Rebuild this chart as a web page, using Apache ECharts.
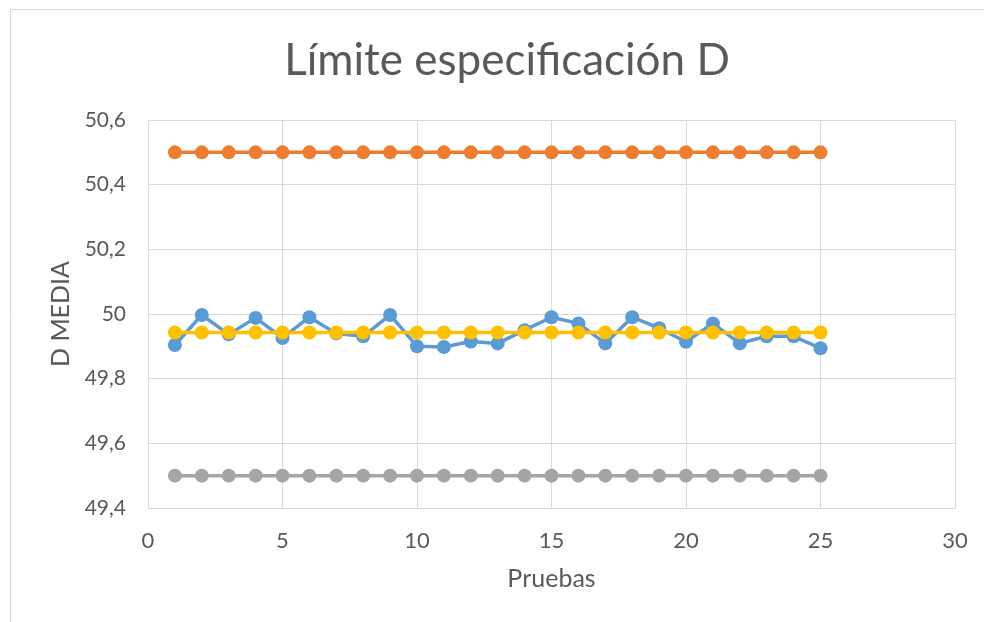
<!DOCTYPE html>
<html>
<head>
<meta charset="utf-8">
<script src="https://cdn.jsdelivr.net/npm/echarts@6/dist/echarts.min.js"></script>
<style>
  html, body { margin: 0; padding: 0; background: #fff; }
  #chart { width: 984px; height: 622px; }
</style>
</head>
<body>
<div id="chart"></div>
<script>
// Test numbers 1..25
const pruebas = [1,2,3,4,5,6,7,8,9,10,11,12,13,14,15,16,17,18,19,20,21,22,23,24,25];

// Measured D mean per test
const dMedia = [49.904, 49.997, 49.937, 49.988, 49.926, 49.990, 49.940, 49.931, 49.997, 49.900,
                49.898, 49.915, 49.909, 49.950, 49.990, 49.971, 49.909, 49.990, 49.956, 49.914,
                49.971, 49.909, 49.931, 49.931, 49.894];

// Upper / lower specification limits and overall mean
const limiteSuperior = [50.5,50.5,50.5,50.5,50.5,50.5,50.5,50.5,50.5,50.5,50.5,50.5,50.5,50.5,50.5,50.5,50.5,50.5,50.5,50.5,50.5,50.5,50.5,50.5,50.5];
const limiteInferior = [49.5,49.5,49.5,49.5,49.5,49.5,49.5,49.5,49.5,49.5,49.5,49.5,49.5,49.5,49.5,49.5,49.5,49.5,49.5,49.5,49.5,49.5,49.5,49.5,49.5];
const media = [49.943,49.943,49.943,49.943,49.943,49.943,49.943,49.943,49.943,49.943,49.943,49.943,49.943,49.943,49.943,49.943,49.943,49.943,49.943,49.943,49.943,49.943,49.943,49.943,49.943];

const FONT = 'Lato, "Open Sans", sans-serif';
const pair = (ys) => pruebas.map((x, i) => [x, ys[i]]);

function serie(name, ys, color, z) {
  return {
    name, type: 'line', data: pair(ys), z,
    symbol: 'circle', symbolSize: 14,
    lineStyle: { color, width: 3.5 },
    itemStyle: { color },
    emphasis: { disabled: true },
    animation: false
  };
}

const chart = echarts.init(document.getElementById('chart'), null, { renderer: 'canvas' });
chart.setOption({
  backgroundColor: '#fff',
  graphic: [{
    type: 'rect', silent: true,
    shape: { x: 10.5, y: 9.5, width: 990, height: 640 },
    style: { fill: 'none', stroke: '#d9d9d9', lineWidth: 1 }
  }],
  title: {
    text: 'Límite especificación D',
    left: 502, top: 34, textAlign: 'center',
    textStyle: { fontFamily: FONT, fontSize: 44, fontWeight: 'normal', color: '#595959' }
  },
  grid: { left: 148, right: 29, top: 120, bottom: 114 },
  xAxis: {
    type: 'value', min: 0, max: 30, interval: 5,
    name: 'Pruebas', nameLocation: 'middle', nameGap: 58,
    nameTextStyle: { fontFamily: FONT, fontSize: 25, color: '#595959' },
    axisLine: { show: true, lineStyle: { color: '#d9d9d9', width: 1 } },
    axisTick: { show: false },
    axisLabel: { fontFamily: FONT, fontSize: 22, color: '#595959', margin: 22 },
    splitLine: { show: true, lineStyle: { color: '#d9d9d9', width: 1 } }
  },
  yAxis: {
    type: 'value', min: 49.4, max: 50.6, interval: 0.2,
    name: 'D MEDIA', nameLocation: 'middle', nameGap: 72, nameRotate: 90,
    nameTextStyle: { fontFamily: FONT, fontSize: 25, color: '#595959' },
    axisLine: { show: true, lineStyle: { color: '#d9d9d9', width: 1 } },
    axisTick: { show: false },
    axisLabel: {
      fontFamily: FONT, fontSize: 21, color: '#595959', margin: 22,
      formatter: (v) => String(Math.round(v * 10) / 10).replace('.', ',')
    },
    splitLine: { show: true, lineStyle: { color: '#d9d9d9', width: 1 } }
  },
  series: [
    serie('D MEDIA', dMedia, '#5b9bd5', 2),
    serie('Límite superior', limiteSuperior, '#ed7d31', 3),
    serie('Límite inferior', limiteInferior, '#a5a5a5', 4),
    serie('Media', media, '#ffc000', 5)
  ]
});
</script>
</body>
</html>
